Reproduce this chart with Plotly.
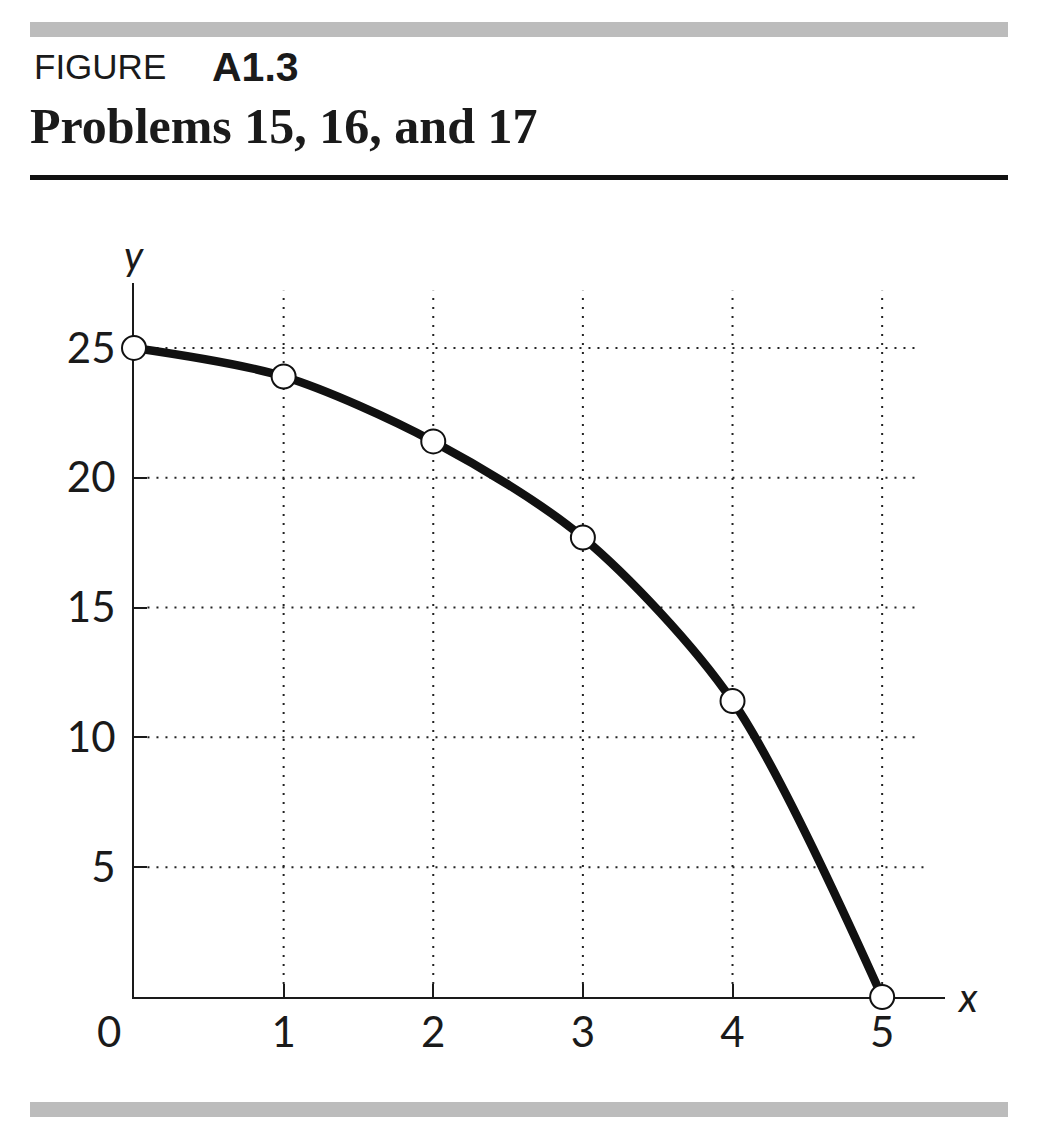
import plotly.graph_objects as go

# ---- data ----
x_values = [0, 1, 2, 3, 4, 5]
y_values = [25, 23.9, 21.4, 17.7, 11.4, 0]
x_ticks = [1, 2, 3, 4, 5]
y_ticks = [5, 10, 15, 20, 25]
fig_label = "FIGURE"
fig_number = "A1.3"
fig_title = "Problems 15, 16, and 17"

# page has an 8px body margin; map reference pixel coords to figure paper coords
OFF = 8
W, H = 1030, 1131
def px(p):
    return (p - OFF) / W
def py(p):
    return 1 - (p - OFF) / H

INK = "#1a1a1a"
TICK_FONT = dict(family="Lato, 'Open Sans', sans-serif", size=42, color=INK)
GRID = dict(color="#222222", width=2, dash="2px,7px")

fig = go.Figure()
fig.add_trace(go.Scatter(
    x=x_values, y=y_values, mode="lines+markers",
    line=dict(color="#111111", width=8.5, shape="spline", smoothing=0.85),
    marker=dict(size=24, color="white", line=dict(color="#111111", width=2)),
    cliponaxis=False, hoverinfo="skip", showlegend=False,
))

shapes = []
for yv in y_ticks:
    shapes.append(dict(type="line", xref="x", yref="y", x0=0.09, x1=5.3 if yv == 5 else 5.25,
                       y0=yv, y1=yv, layer="below", line=GRID))
for xv in x_ticks:
    shapes.append(dict(type="line", xref="x", yref="y", x0=xv, x1=xv, y0=0.5, y1=27.2,
                       layer="below", line=GRID))
shapes.append(dict(type="rect", xref="paper", yref="paper", x0=px(30), x1=px(1008),
                   y0=py(37), y1=py(22), fillcolor="#bcbcbc", line=dict(width=0)))
shapes.append(dict(type="rect", xref="paper", yref="paper", x0=px(30), x1=px(1008),
                   y0=py(1117), y1=py(1102), fillcolor="#bcbcbc", line=dict(width=0)))
shapes.append(dict(type="rect", xref="paper", yref="paper", x0=px(30), x1=px(1008),
                   y0=py(180), y1=py(175), fillcolor="#111111", line=dict(width=0)))

annotations = [
    dict(text=fig_label, x=px(32), y=py(67), xref="paper", yref="paper",
         xanchor="left", yanchor="middle", showarrow=False,
         font=dict(family="Liberation Sans, Arial, sans-serif", size=35, color=INK)),
    dict(text="<b>" + fig_number + "</b>", x=px(210), y=py(67), xref="paper", yref="paper",
         xanchor="left", yanchor="middle", showarrow=False,
         font=dict(family="Liberation Sans, Arial, sans-serif", size=41, color=INK)),
    dict(text="<b>" + fig_title + "</b>", x=px(28), y=py(126), xref="paper", yref="paper",
         xanchor="left", yanchor="middle", showarrow=False,
         font=dict(family="Liberation Serif, 'Times New Roman', serif", size=50, color=INK)),
    dict(text="<i>y</i>", x=px(134), y=py(255), xref="paper", yref="paper",
         xanchor="center", yanchor="middle", showarrow=False,
         font=dict(family="Lato, sans-serif", size=40, color=INK)),
    dict(text="<i>x</i>", x=px(967), y=py(997), xref="paper", yref="paper",
         xanchor="center", yanchor="middle", showarrow=False,
         font=dict(family="Lato, sans-serif", size=40, color=INK)),
    dict(text="0", x=px(109), y=py(1031), xref="paper", yref="paper",
         xanchor="center", yanchor="middle", showarrow=False, font=TICK_FONT),
]

fig.update_layout(
    width=W, height=H,
    margin=dict(l=0, r=0, t=0, b=0),
    paper_bgcolor="white", plot_bgcolor="white",
    shapes=shapes, annotations=annotations,
    xaxis=dict(range=[0, 5.42], domain=[px(134), px(945)],
               showline=True, linecolor=INK, linewidth=2, layer="below traces",
               tickvals=x_ticks, ticks="inside", ticklen=13, tickwidth=2, tickcolor=INK,
               tickfont=TICK_FONT, ticklabelstandoff=-2,
               showgrid=False, zeroline=False, fixedrange=True),
    yaxis=dict(range=[0, 27.5], domain=[py(997), py(283)],
               showline=True, linecolor=INK, linewidth=2, layer="below traces",
               tickvals=y_ticks, ticks="inside", ticklen=13, tickwidth=2, tickcolor=INK,
               tickfont=TICK_FONT, ticklabelstandoff=8,
               showgrid=False, zeroline=False, fixedrange=True),
)

fig.write_html("out.html")
